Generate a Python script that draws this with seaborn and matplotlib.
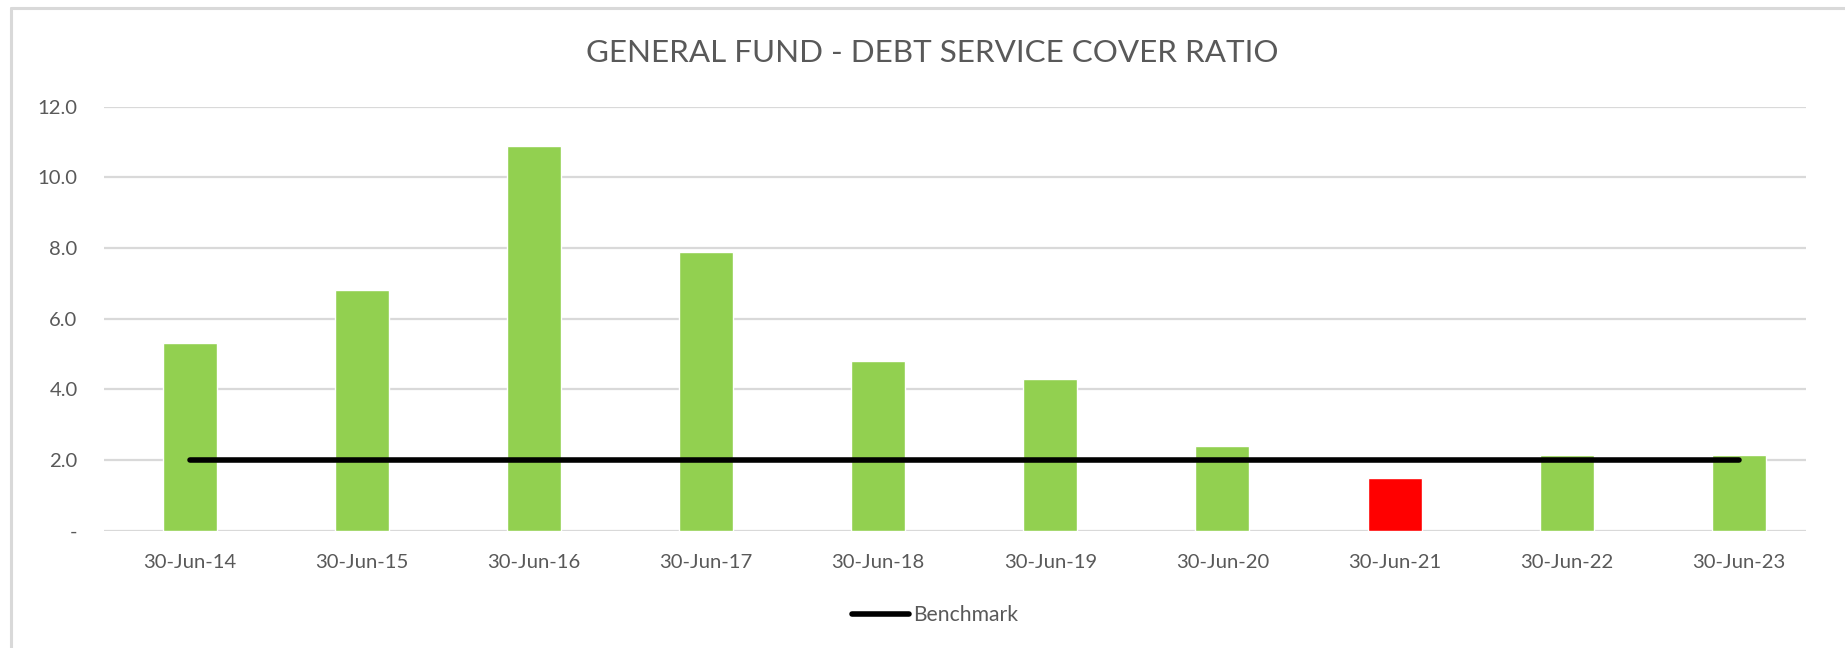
import numpy as np
import matplotlib
matplotlib.use("Agg")
import matplotlib.pyplot as plt
from matplotlib.lines import Line2D
import seaborn as sns

# ---- data ----
dates = ["30-Jun-14", "30-Jun-15", "30-Jun-16", "30-Jun-17", "30-Jun-18",
         "30-Jun-19", "30-Jun-20", "30-Jun-21", "30-Jun-22", "30-Jun-23"]
ratio = [5.3, 6.8, 10.9, 7.9, 4.8, 4.3, 2.4, 1.5, 2.15, 2.15]
benchmark = [2.0] * len(dates)
bar_colors = ["#92D050"] * 7 + ["#FF0000"] + ["#92D050"] * 2
yticks = [0, 2, 4, 6, 8, 10, 12]
ytick_labels = ["-", "2.0", "4.0", "6.0", "8.0", "10.0", "12.0"]
title = "GENERAL FUND - DEBT SERVICE COVER RATIO"

sns.set_theme(style="white")
plt.rcParams["font.family"] = ["Lato", "DejaVu Sans"]
TXT = "#595959"
GRID = "#D9D9D9"

fig = plt.figure(figsize=(18.45, 6.48), dpi=100)
# axes from x=104px to x=1806px, y from 106.7px to 530.7px
ax = fig.add_axes([104 / 1845, 1 - 530.7 / 648, (1806 - 104) / 1845, 424 / 648])

sns.barplot(x=dates, y=ratio, hue=dates, palette=bar_colors, legend=False,
            width=0.314, saturation=1, ax=ax, zorder=2)
sns.lineplot(x=np.arange(len(dates)), y=benchmark, color="black", linewidth=4.0,
             ax=ax, zorder=3, solid_capstyle="round")

ax.set_xlim(-0.497, len(dates) - 1 + 0.39)
ax.set_ylim(0, 12)
ax.set_yticks(yticks)
ax.set_yticklabels(ytick_labels)
ax.yaxis.grid(True, color=GRID, linewidth=1.6, zorder=0)
ax.set_axisbelow(True)
for s in ax.spines.values():
    s.set_visible(False)
ax.tick_params(axis="both", length=0, labelsize=14.6, labelcolor=TXT)
ax.tick_params(axis="y", pad=19)
ax.tick_params(axis="x", pad=17)
ax.set_xlabel("")
ax.set_ylabel("")

fig.text(0.5055, 0.918, title, ha="center", va="center", fontsize=22.6, color=TXT)

handle = Line2D([], [], color="black", linewidth=4.0, solid_capstyle="round")
leg = fig.legend(handles=[handle], labels=["Benchmark"], loc="center",
                 bbox_to_anchor=(0.507, 0.051), frameon=False, fontsize=15.2,
                 handlelength=2.7, handletextpad=0.2)
for t in leg.get_texts():
    t.set_color(TXT)

# chart-area border (top and left visible)
fig.add_artist(Line2D([0.006, 1.0], [0.9877, 0.9877], color=GRID, linewidth=2.2,
                      transform=fig.transFigure))
fig.add_artist(Line2D([0.006, 0.006], [0.0, 0.9877], color=GRID, linewidth=2.2,
                      transform=fig.transFigure))

fig.savefig("out.png", dpi=100)
